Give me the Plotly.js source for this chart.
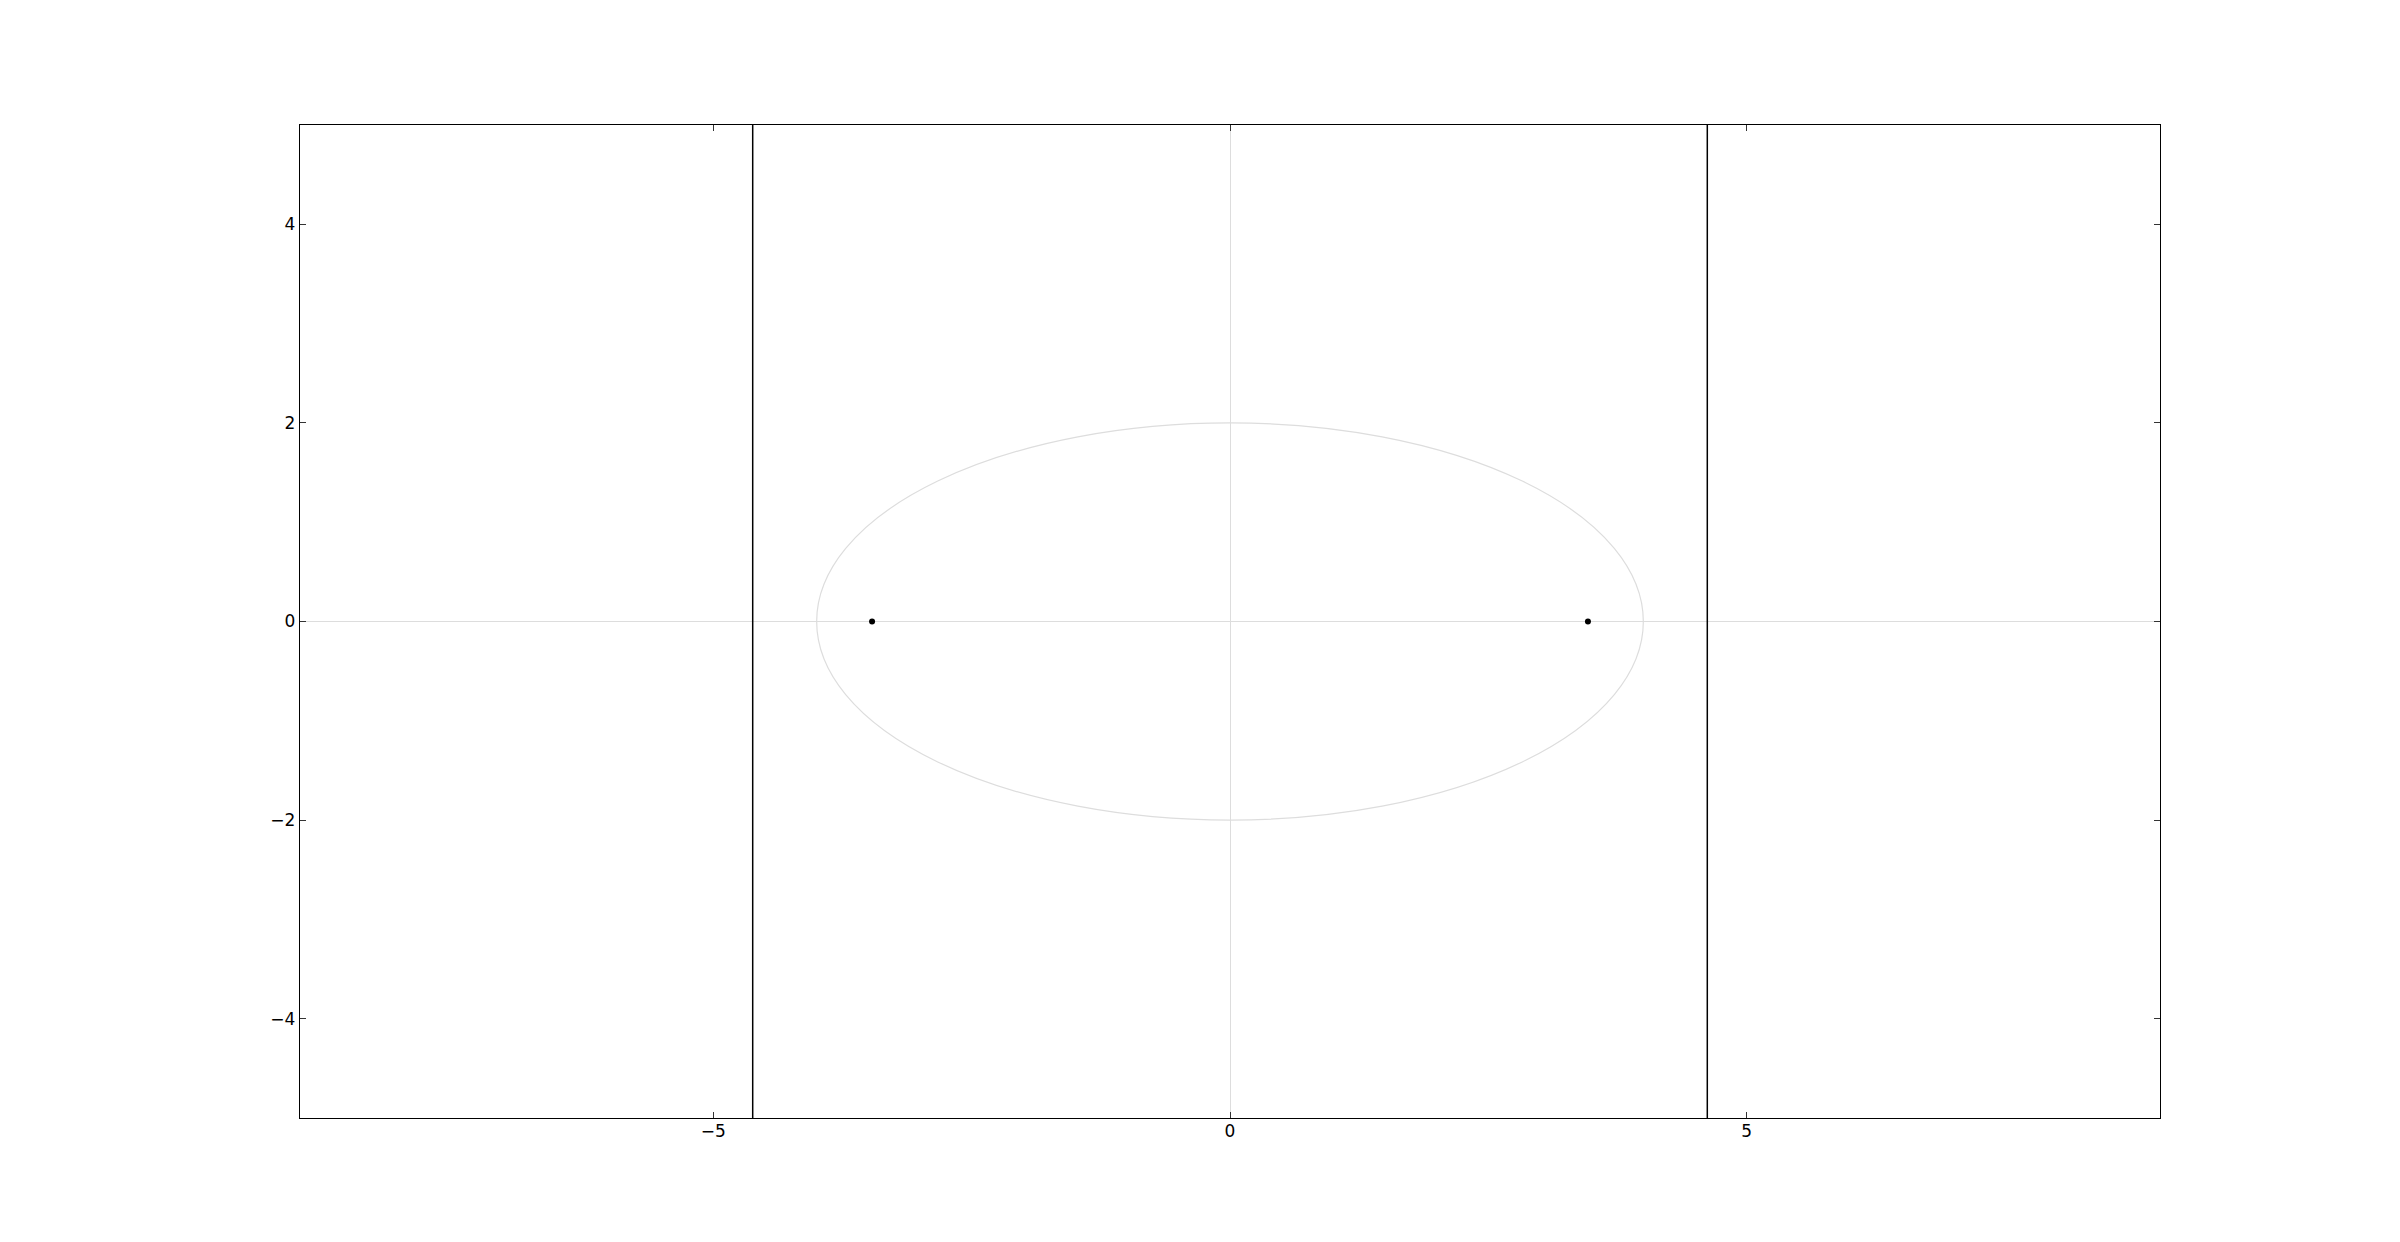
<!DOCTYPE html>
<html>
<head>
<meta charset="utf-8">
<script src="https://cdn.plot.ly/plotly-3.0.1.min.js"></script>
<style>
  html, body { margin: 0; padding: 0; background: white; }
  #chart { width: 2400px; height: 1242px; }
</style>
</head>
<body>
<div id="chart"></div>
<script>
// ellipse x^2/16 + y^2/4 = 1, its foci and directrices
const semiAxes = [4, 2];
const fociX = [-3.464, 3.464];
const fociY = [0, 0];
const directrixX = [-4.619, 4.619];
const xRange = [-9, 9];
const yRange = [-5, 5];
const xTicks = [-5, 0, 5];
const xTickText = ["\u22125", "0", "5"];
const yTicks = [-4, -2, 0, 2, 4];
const yTickText = ["\u22124", "\u22122", "0", "2", "4"];

const traces = directrixX.map((d) => ({
  x: [d, d],
  y: yRange,
  mode: "lines",
  line: { color: "black", width: 1.5 },
  hoverinfo: "skip",
}));

traces.push({
  x: fociX,
  y: fociY,
  mode: "markers",
  marker: { color: "black", size: 6 },
  hoverinfo: "skip",
});

const axisStyle = {
  showline: true,
  linecolor: "black",
  linewidth: 1.3,
  mirror: "allticks",
  ticks: "inside",
  ticklen: 6,
  tickwidth: 1,
  tickcolor: "#333",
  showgrid: false,
  zeroline: true,
  zerolinecolor: "#dddddd",
  zerolinewidth: 1,
  tickfont: { family: "DejaVu Sans", size: 17, color: "black" },
};

Plotly.newPlot(
  "chart",
  traces,
  {
    width: 2400,
    height: 1242,
    margin: { l: 300, r: 240, t: 125, b: 124 },
    paper_bgcolor: "white",
    plot_bgcolor: "white",
    showlegend: false,
    xaxis: { ...axisStyle, range: xRange, tickvals: xTicks, ticktext: xTickText, ticklabelstandoff: -3 },
    yaxis: { ...axisStyle, range: yRange, tickvals: yTicks, ticktext: yTickText },
    shapes: [
      {
        type: "circle",
        xref: "x",
        yref: "y",
        x0: -semiAxes[0],
        x1: semiAxes[0],
        y0: -semiAxes[1],
        y1: semiAxes[1],
        line: { color: "#dddddd", width: 1.2 },
        layer: "below",
      },
    ],
  },
  { displayModeBar: false, staticPlot: true }
);
</script>
</body>
</html>
